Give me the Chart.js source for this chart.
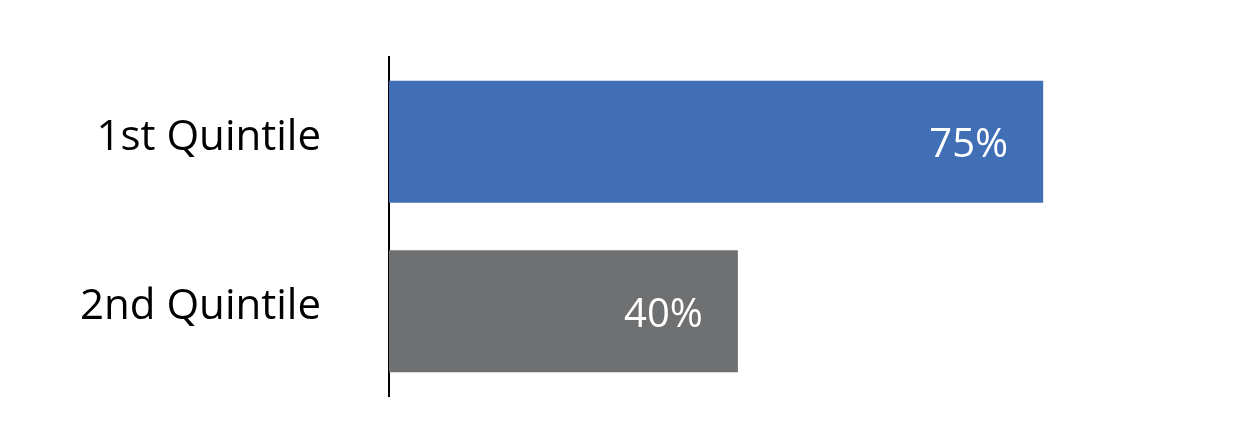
<!DOCTYPE html>
<html>
<head>
<meta charset="utf-8">
<script src="https://cdn.jsdelivr.net/npm/chart.js@4"></script>
<style>
  html, body { margin: 0; padding: 0; background: #fff; }
  #wrap { width: 1257px; height: 447px; }
</style>
</head>
<body>
<div id="wrap"><canvas id="mychart"></canvas></div>
<script>
var categories = ["1st Quintile", "2nd Quintile"]
var shares = [75, 40]
var barColors = ["#416fb6", "#6f7072"]

// white value labels drawn at the inside end of each bar
var valueLabels = {
    id: "valueLabels",
    afterDatasetsDraw: function(chart){
        var ctx = chart.ctx
        var meta = chart.getDatasetMeta(0)
        ctx.save()
        ctx.fillStyle = "#ffffff"
        ctx.font = "40px 'Open Sans'"
        ctx.textAlign = "right"
        ctx.textBaseline = "middle"
        meta.data.forEach(function(bar, i){
            ctx.fillText(shares[i] + "%", bar.x - 35, bar.y + 4)
        })
        ctx.restore()
    }
}

var myChart = document.getElementById("mychart").getContext("2d")

var chart = new Chart(myChart, {
    type: "bar",
    data: {
        labels: categories,
        datasets: [{
            data: shares,
            backgroundColor: barColors,
            barPercentage: 0.72,
            categoryPercentage: 1
        }]
    },
    options: {
        indexAxis: "y",
        responsive: true,
        maintainAspectRatio: false,
        animation: false,
        layout: { padding: { top: 57, bottom: 51, right: 83, left: 0 } },
        plugins: {
            legend: { display: false },
            tooltip: { enabled: false }
        },
        scales: {
            x: {
                display: false,
                min: 0,
                max: 90
            },
            y: {
                afterFit: function(scale){
                    scale.width = 389
                    scale.paddingTop = 0
                    scale.paddingBottom = 0
                },
                grid: { display: false, drawTicks: false },
                border: { display: true, color: "#000000", width: 2 },
                ticks: {
                    color: "#000000",
                    padding: 68,
                    labelOffset: -4,
                    font: { family: "'Open Sans'", size: 42 }
                }
            }
        }
    },
    plugins: [valueLabels]
})
</script>
</body>
</html>
